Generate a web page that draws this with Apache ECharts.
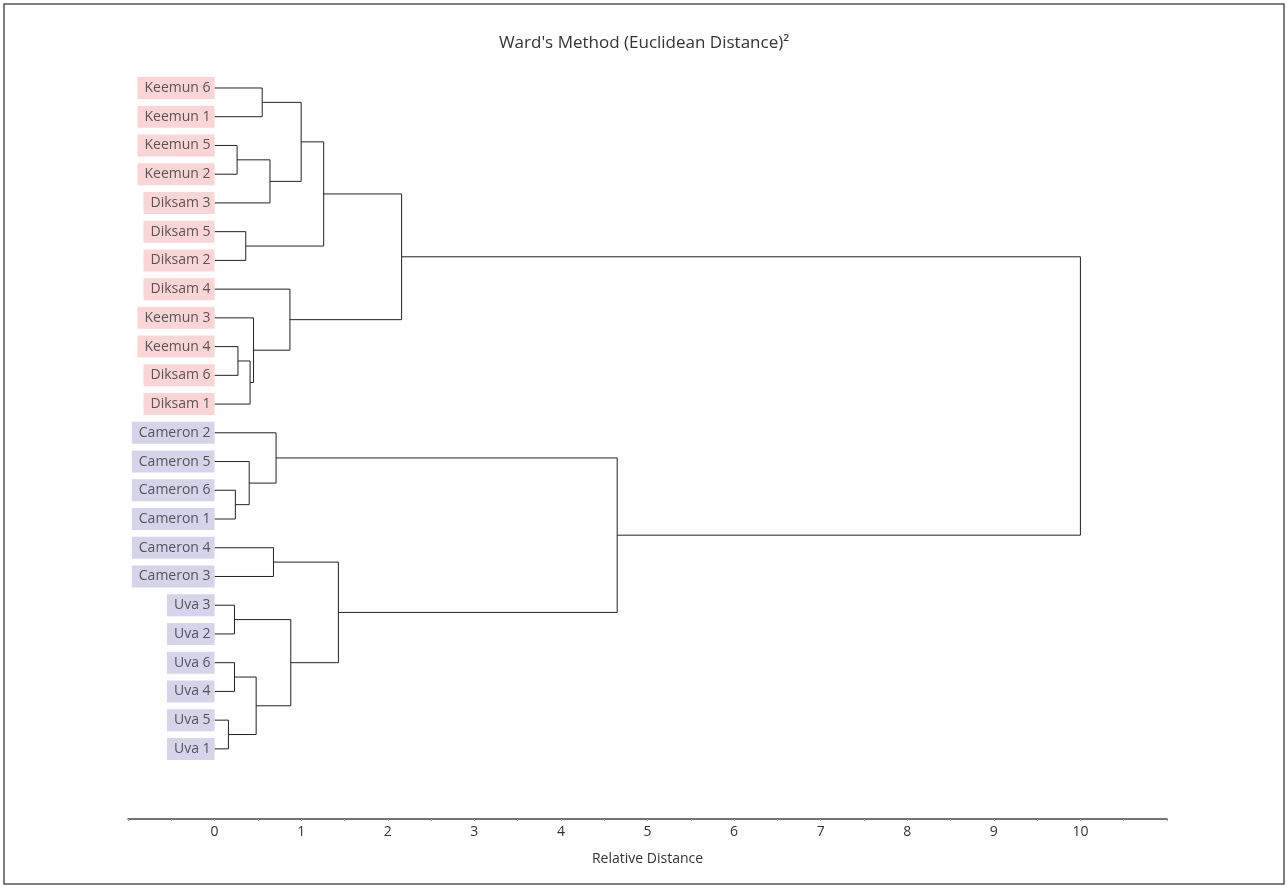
<!DOCTYPE html>
<html>
<head>
<meta charset="utf-8">
<script src="https://cdn.jsdelivr.net/npm/echarts@6/dist/echarts.min.js"></script>
<style>
html,body{margin:0;padding:0;background:#fff;}
#chart{width:1288px;height:888px;}
</style>
</head>
<body>
<div id="chart"></div>
<script>
// Leaves, top to bottom
const leaves = ['Keemun 6','Keemun 1','Keemun 5','Keemun 2','Diksam 3','Diksam 5','Diksam 2','Diksam 4','Keemun 3','Keemun 4','Diksam 6','Diksam 1',
  'Cameron 2','Cameron 5','Cameron 6','Cameron 1','Cameron 4','Cameron 3','Uva 3','Uva 2','Uva 6','Uva 4','Uva 5','Uva 1'];
const leafGroup = [0,0,0,0,0,0,0,0,0,0,0,0,1,1,1,1,1,1,1,1,1,1,1,1];
// Merge steps: [child A, child B, height]; ids < 24 are leaves, id 24+k is merge k
const mergeA = [22,18,20,14,2, 9, 5, 13,29,8, 26,0, 28,16,12,7, 25,35,41,37,42,38,44];
const mergeB = [23,19,21,15,3, 10,6, 27,11,32,24,1, 4, 17,31,33,34,36,30,40,39,43,45];
const mergeH = [0.16,0.23,0.23,0.24,0.26,0.27,0.36,0.40,0.41,0.45,0.48,0.55,0.64,0.68,0.71,0.87,0.88,1.00,1.26,1.43,2.16,4.65,10.0];
const xTicks = [0,1,2,3,4,5,6,7,8,9,10];
const groupColors = ['#f9cacb','#cbc9e6'];

const nodeX = [], nodeY = [];
leaves.forEach((n,i)=>{nodeX.push(0);nodeY.push(i);});
const brackets = [];
for (let k=0;k<mergeH.length;k++){
  const a=mergeA[k], b=mergeB[k], h=mergeH[k];
  brackets.push([nodeX[a], nodeY[a], nodeX[b], nodeY[b], h]);
  nodeX.push(h); nodeY.push((nodeY[a]+nodeY[b])/2);
}

const chart = echarts.init(document.getElementById('chart'));
const FONT = 'Open Sans';
chart.setOption({
  backgroundColor:'#fff',
  animation:false,
  title:{text:"Ward's Method (Euclidean Distance)\u00b2", left:'center', top:30,
    textStyle:{fontFamily:FONT,fontSize:17,fontWeight:'normal',color:'#333'}},
  graphic:[{type:'rect',shape:{x:4,y:4,width:1280,height:880},style:{fill:null,stroke:'#555',lineWidth:1.5},silent:true}],
  grid:{left:128,right:121,top:59.26,height:759.74},
  xAxis:{type:'value',min:-1,max:11,interval:0.5,
    name:'Relative Distance',nameLocation:'middle',nameGap:33,
    nameTextStyle:{fontFamily:FONT,fontSize:14,color:'#333'},
    axisLine:{show:true,onZero:false,lineStyle:{color:'#444',width:1.5}},
    axisTick:{show:true,length:2,lineStyle:{color:'#999'}},
    axisLabel:{margin:6,fontFamily:FONT,fontSize:14,color:'#333',showMinLabel:true,showMaxLabel:true,
      formatter:v=> xTicks.indexOf(Math.round(v*100)/100)>=0 ? String(v) : ''},
    splitLine:{show:false}},
  yAxis:{type:'value',inverse:true,min:-1,max:25.44,show:false},
  series:[
    {type:'custom',
     data:brackets,
     renderItem:function(params,api){
       const p1=api.coord([api.value(0),api.value(1)]);
       const pm1=api.coord([api.value(4),api.value(1)]);
       const pm2=api.coord([api.value(4),api.value(3)]);
       const p2=api.coord([api.value(2),api.value(3)]);
       return {type:'polyline',shape:{points:[p1,pm1,pm2,p2]},
         style:{stroke:'#222',lineWidth:1,fill:null}};
     },
     encode:{x:[0,2,4],y:[1,3]},
     silent:true},
    {type:'scatter',symbolSize:0,silent:true,
     data:leaves.map((n,i)=>({value:[0,i,n],label:{backgroundColor:groupColors[leafGroup[i]]}})),
     label:{show:true,position:'left',distance:0,formatter:p=>p.value[2],
       fontFamily:FONT,fontSize:14,color:'#333',padding:[3,4,3,7],lineHeight:16}}
  ]
});
</script>
</body>
</html>
